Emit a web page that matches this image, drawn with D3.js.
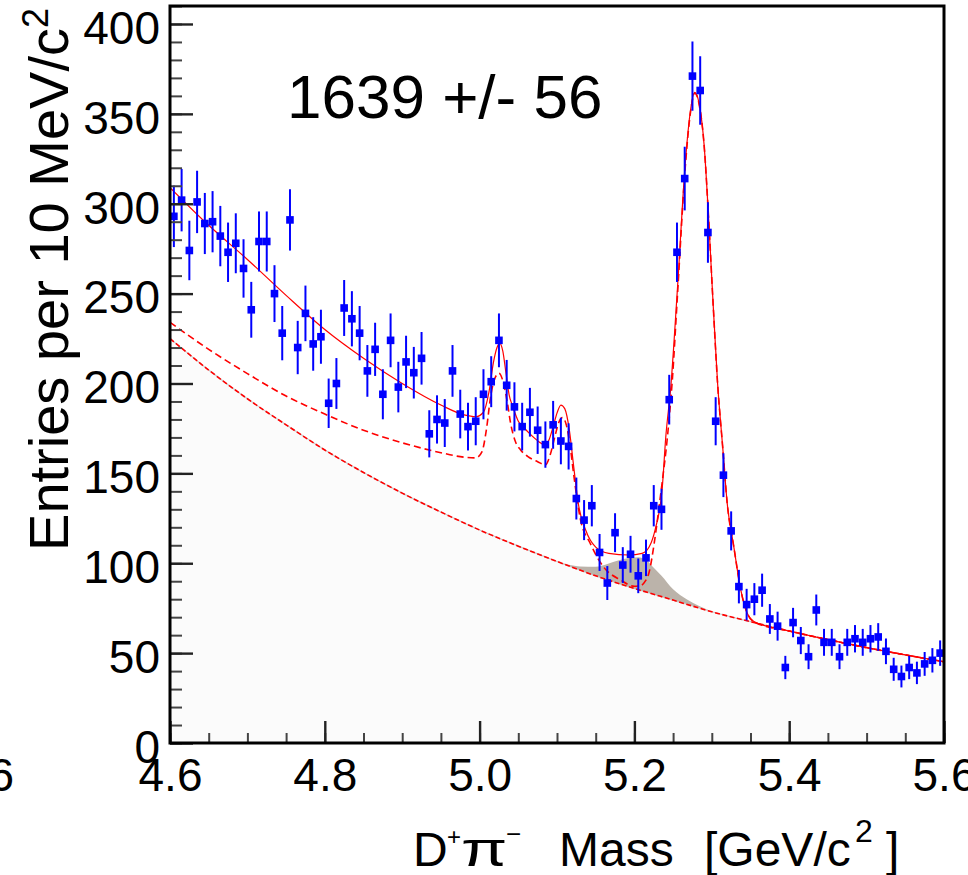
<!DOCTYPE html>
<html>
<head>
<meta charset="utf-8">
<script src="https://cdn.jsdelivr.net/npm/d3@7"></script>
<style>
  html, body { margin: 0; padding: 0; background: #fff; }
  svg { display: block; font-family: "Liberation Sans", Arial, Helvetica, sans-serif; }
</style>
</head>
<body>
<svg id="chart" width="968" height="875"></svg>
<script>
// D+ pi- invariant mass spectrum, 10 MeV/c^2 bins from 4.60 to 5.60 GeV/c^2
const massLow = 4.60;
const binWidth = 0.01;

// entries per bin
const counts = [
  293, 302, 274, 301, 289, 290, 282, 273, 278, 264,
  241, 279, 279, 250, 228, 291, 220, 239, 222, 226,
  189, 200, 242, 236, 228, 207, 219, 194, 224, 198,
  212, 206, 214, 172, 180, 178, 207, 183, 176, 179,
  194, 201, 224, 199, 187, 176, 184, 174, 166, 177,
  168, 165, 136, 124, 132, 106,  89, 117,  99, 105,
   93, 103, 132, 130, 191, 273, 314, 371, 363, 284,
  179, 149, 118,  87,  77,  80,  85,  69,  65,  42,
   67,  57,  48,  74,  56,  56,  48,  56,  58,  56,
   58,  59,  51,  41,  37,  42,  39,  44,  46,  50
];

// total fit  [mass, entries]
const fitTotal = [
  [4.60, 309], [4.65, 288], [4.70, 269], [4.75, 249], [4.80, 230],
  [4.85, 214], [4.90, 200], [4.95, 188], [4.98, 182.5], [4.995, 181.5],
  [5.005, 184], [5.012, 195], [5.018, 212], [5.0225, 220], [5.026, 222.5],
  [5.030, 218], [5.034, 206], [5.038, 194], [5.043, 187], [5.050, 179],
  [5.057, 175.5], [5.065, 172], [5.077, 167.5], [5.085, 165.5], [5.090, 169],
  [5.095, 176], [5.100, 183.5], [5.105, 188], [5.110, 186], [5.116, 174],
  [5.1215, 154], [5.128, 132], [5.137, 118.5], [5.150, 109], [5.167, 105.5],
  [5.193, 104.6], [5.210, 105.5], [5.219, 109], [5.227, 119], [5.236, 142],
  [5.2405, 170], [5.247, 198], [5.2555, 252], [5.266, 324], [5.2725, 352],
  [5.278, 362], [5.2835, 356], [5.290, 333], [5.2965, 287], [5.301, 250],
  [5.3075, 200], [5.314, 165], [5.320, 133], [5.3285, 109], [5.3375, 85],
  [5.346, 72], [5.355, 67.5], [5.40, 62.3], [5.45, 57.5], [5.50, 53.1],
  [5.55, 49], [5.60, 45.2]
];

// fit without the smooth combinatorial term (dashed)
const fitPeaks = [
  [4.60, 234], [4.65, 219], [4.70, 205.5], [4.75, 193], [4.80, 183],
  [4.85, 174], [4.90, 167], [4.95, 161.5], [4.98, 159], [4.995, 158.6],
  [5.003, 162], [5.009, 175], [5.014, 192], [5.019, 202], [5.025, 205.7],
  [5.031, 200], [5.036, 189], [5.040, 178], [5.046, 168], [5.053, 163],
  [5.062, 159.5], [5.075, 156.5], [5.085, 154.7], [5.091, 160], [5.097, 170],
  [5.102, 178], [5.107, 181], [5.112, 177], [5.117, 165], [5.122, 148],
  [5.130, 125], [5.143, 111], [5.160, 98], [5.182, 90.7], [5.200, 87.2],
  [5.208, 87.5], [5.214, 90], [5.219, 95], [5.2252, 110], [5.230, 125],
  [5.235, 142], [5.2426, 170], [5.249, 202], [5.2555, 248], [5.266, 322],
  [5.2725, 351], [5.278, 361.5], [5.2835, 355.5], [5.290, 333], [5.2965, 287],
  [5.301, 250], [5.3075, 200], [5.314, 165], [5.320, 133], [5.3285, 109],
  [5.3375, 85], [5.346, 72], [5.355, 67.3], [5.40, 62.3], [5.45, 57.5],
  [5.50, 53.1], [5.55, 49], [5.60, 45.2]
];

// smooth background (dash-dotted, filled)
const fitBackground = [
  [4.60, 225], [4.65, 207.5], [4.70, 191.5], [4.75, 177], [4.80, 163],
  [4.85, 150.5], [4.90, 139], [4.95, 128.5], [5.00, 118.5], [5.05, 109.5],
  [5.10, 101], [5.15, 93], [5.20, 86], [5.25, 79.5], [5.30, 73],
  [5.35, 67.5], [5.40, 62.3], [5.45, 57.5], [5.50, 53], [5.55, 49],
  [5.60, 45.2]
];

// reflection component stacked on the background  [mass, base, top]
const reflection = [
  [5.100, 100.8, 100.8], [5.115, 98.4, 99.2], [5.130, 96.1, 98.2],
  [5.150, 93.1, 98.0], [5.165, 91.0, 99.6], [5.180, 88.8, 101.6],
  [5.195, 86.7, 103.0], [5.205, 85.4, 103.4], [5.215, 84.1, 102.0],
  [5.225, 82.8, 97.5], [5.235, 81.5, 93.0], [5.250, 79.6, 85.5],
  [5.268, 77.3, 79.8], [5.285, 75.2, 75.9], [5.300, 73.2, 73.2]
];

const xTickValues = [4.6, 4.8, 5.0, 5.2, 5.4, 5.6];
const xTickLabels = ["4.6", "4.8", "5.0", "5.2", "5.4", "5.6"];
const xMinorStep = 0.05;
const yTickValues = [0, 50, 100, 150, 200, 250, 300, 350, 400];
const yTickLabels = ["0", "50", "100", "150", "200", "250", "300", "350", "400"];
const yMinorStep = 10;
const yieldText = "1639 +/- 56";

// ---------------------------------------------------------------
const svg = d3.select("#chart");
const frame = { left: 170, right: 944, top: 6, bottom: 743 };

const x = d3.scaleLinear().domain([4.6, 5.6]).range([frame.left, frame.right]);
const y = d3.scaleLinear().domain([0, 410]).range([frame.bottom, frame.top]);

svg.append("defs").append("clipPath").attr("id", "plotClip")
  .append("rect")
  .attr("x", frame.left).attr("y", frame.top)
  .attr("width", frame.right - frame.left).attr("height", frame.bottom - frame.top);
const plot = svg.append("g").attr("clip-path", "url(#plotClip)");

// light fill under the background shape
plot.append("path")
  .datum(fitBackground)
  .attr("d", d3.area()
    .x(d => x(d[0])).y0(y(0)).y1(d => y(d[1]))
    .curve(d3.curveMonotoneX))
  .attr("fill", "#fbfbfb")
  .attr("stroke", "none");
plot.append("path")
  .datum(fitBackground)
  .attr("d", d3.line().x(d => x(d[0])).y(d => y(d[1])).curve(d3.curveMonotoneX))
  .attr("fill", "none")
  .attr("stroke", "#c8c8c8")
  .attr("stroke-width", 1.2);

// reflection band
plot.append("path")
  .datum(reflection)
  .attr("d", d3.area()
    .x(d => x(d[0])).y0(d => y(d[1])).y1(d => y(d[2]))
    .curve(d3.curveMonotoneX))
  .attr("fill", "#bbb3aa")
  .attr("stroke", "none");

const fitLine = d3.line().x(d => x(d[0])).y(d => y(d[1])).curve(d3.curveMonotoneX);

plot.append("path").datum(fitBackground).attr("d", fitLine)
  .attr("fill", "none").attr("stroke", "#ff0000").attr("stroke-width", 1.6)
  .attr("stroke-dasharray", "5,2.5");

plot.append("path").datum(fitPeaks).attr("d", fitLine)
  .attr("fill", "none").attr("stroke", "#ff0000").attr("stroke-width", 1.6)
  .attr("stroke-dasharray", "7,4");

plot.append("path").datum(fitTotal).attr("d", fitLine)
  .attr("fill", "none").attr("stroke", "#ff0000").attr("stroke-width", 1.2);

// data points with Poisson uncertainties
const points = counts.map((n, i) => ({ m: massLow + (i + 0.5) * binWidth, n }));
const pts = plot.append("g");
pts.selectAll("line.err").data(points).join("line")
  .attr("class", "err")
  .attr("x1", d => x(d.m)).attr("x2", d => x(d.m))
  .attr("y1", d => y(d.n + Math.sqrt(d.n)))
  .attr("y2", d => y(d.n - Math.sqrt(d.n)))
  .attr("stroke", "#0000ff").attr("stroke-width", 2);
pts.selectAll("rect.pt").data(points).join("rect")
  .attr("class", "pt")
  .attr("x", d => x(d.m) - 3.8).attr("y", d => y(d.n) - 3.8)
  .attr("width", 7.6).attr("height", 7.6)
  .attr("fill", "#0000ff");

// axes: ticks point into the frame
const styleAxis = g => {
  g.select(".domain").remove();
  g.selectAll("text").attr("fill", "#000").attr("font-size", 46)
    .attr("font-family", "Liberation Sans, Arial, sans-serif");
};

svg.append("g").attr("transform", `translate(${frame.left},0)`)
  .call(d3.axisLeft(y).tickValues(d3.range(0, 411, yMinorStep)).tickSize(-12).tickFormat(""))
  .call(styleAxis)
  .selectAll("line").attr("stroke", "#444").attr("stroke-width", 2);

const yAxisG = svg.append("g").attr("transform", `translate(${frame.left},0)`)
  .call(d3.axisLeft(y).tickValues(yTickValues).tickSize(-23).tickPadding(10)
    .tickFormat((d, i) => yTickLabels[i]))
  .call(styleAxis);
yAxisG.selectAll("line").attr("stroke", "#222").attr("stroke-width", 2.4);
yAxisG.selectAll("text").attr("dy", "0.42em");

svg.append("g").attr("transform", `translate(0,${frame.bottom})`)
  .call(d3.axisBottom(x).tickValues(d3.range(4.6, 5.6001, xMinorStep)).tickSize(-10).tickFormat(""))
  .call(styleAxis)
  .selectAll("line").attr("stroke", "#444").attr("stroke-width", 2);

const xAxisG = svg.append("g").attr("transform", `translate(0,${frame.bottom})`)
  .call(d3.axisBottom(x).tickValues(xTickValues).tickSize(-22).tickPadding(15)
    .tickFormat((d, i) => xTickLabels[i]))
  .call(styleAxis);
xAxisG.selectAll("line").attr("stroke", "#222").attr("stroke-width", 2.4);

// frame
svg.append("rect")
  .attr("x", frame.left).attr("y", frame.top)
  .attr("width", frame.right - frame.left).attr("height", frame.bottom - frame.top)
  .attr("fill", "none").attr("stroke", "#000").attr("stroke-width", 3);

// edge of the neighbouring pad's last tick label
svg.append("text")
  .attr("x", 14).attr("y", 790.7)
  .attr("text-anchor", "end").attr("font-size", 46)
  .text("5.6");

// signal yield
svg.append("text")
  .attr("x", 287).attr("y", 118)
  .attr("font-size", 62)
  .attr("fill", "#000")
  .text(yieldText);

// y title
const yt = svg.append("text")
  .attr("transform", "translate(68,8) rotate(-90)")
  .attr("text-anchor", "end")
  .attr("font-size", 56)
  .attr("fill", "#000");
yt.append("tspan").text("Entries per 10 MeV/c");
yt.append("tspan").attr("font-size", 36).attr("dy", -20).text("2");

// x title
const xt = svg.append("text").attr("y", 866).attr("font-size", 48).attr("fill", "#000");
xt.append("tspan").attr("x", 413).text("D");
xt.append("tspan").attr("x", 447).attr("font-size", 24).attr("dy", -21).text("+");
xt.append("tspan").attr("x", 506).attr("font-size", 26).attr("dy", -2).text("−");
xt.append("tspan").attr("x", 559).attr("dy", 23).text("Mass");
xt.append("tspan").attr("x", 704).text("[GeV/c");
xt.append("tspan").attr("x", 855).attr("font-size", 32).attr("dy", -24).text("2");
xt.append("tspan").attr("x", 886).attr("dy", 24).text("]");
svg.append("text")
  .attr("transform", "translate(461,866) scale(1.4,1)")
  .attr("font-size", 48).attr("fill", "#000")
  .text("π");
</script>
</body>
</html>
